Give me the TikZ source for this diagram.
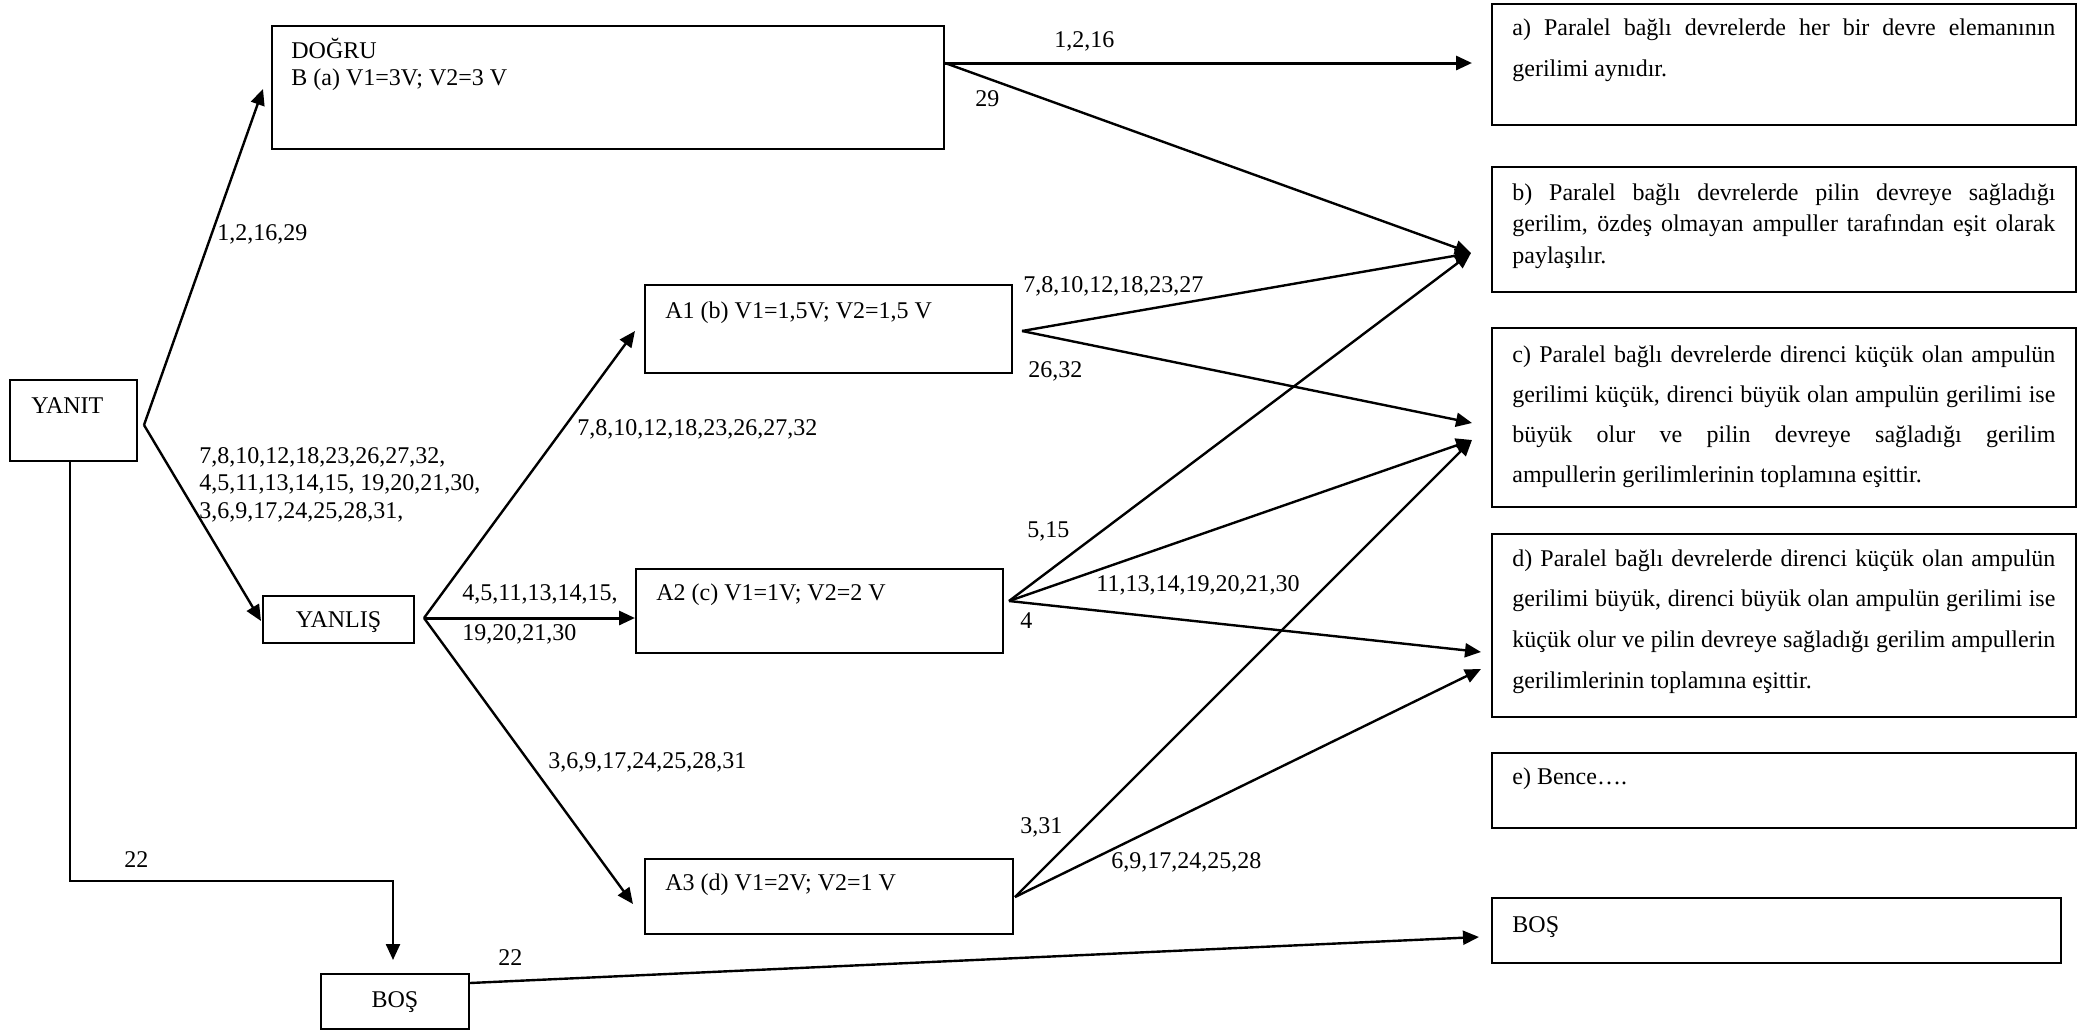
\documentclass[tikz,border=0pt]{standalone}
\usepackage{fontspec}
\setmainfont{Liberation Serif}
\usetikzlibrary{arrows.meta,calc}

% one justified line of a paragraph box, stretched to the full text width
\newcommand\jline[1]{\hbox{\makebox[271.5pt][s]{#1}}}
\newcommand\pline[1]{\hbox{#1}}
\newcommand\figfont{\fontsize{12}{14}\selectfont}

\begin{document}
\begin{tikzpicture}[x=0.5pt,y=-0.5pt,
  box/.style={draw, line width=1pt, inner sep=0pt, anchor=north west},
  txt/.style={inner sep=0pt, anchor=base west, font=\figfont},
  ctxt/.style={inner sep=0pt, anchor=base, font=\figfont},
  link/.style={line width=1.2pt, -{Triangle[length=8pt,width=7pt]}},
  heavy/.style={line width=1.5pt, -{Triangle[length=8pt,width=7pt]}}]

\useasboundingbox (0,0) rectangle (2084,1029);

% ---- boxes ----
\node[box, minimum width=63.5pt, minimum height=40.5pt] (yanit) at (9,379) {};
\node[box, minimum width=336pt, minimum height=61.5pt] (dogru) at (271,25) {};
\node[box, minimum width=75.5pt, minimum height=23.5pt] (yanlis) at (262,595) {};
\node[box, minimum width=183.5pt, minimum height=44pt] (aone) at (644,284) {};
\node[box, minimum width=183.5pt, minimum height=42pt] (atwo) at (635,568) {};
\node[box, minimum width=184pt, minimum height=37.5pt] (athree) at (644,858) {};
\node[box, minimum width=74pt, minimum height=27.5pt] (bosl) at (320,973) {};

\node[box, minimum width=292pt, minimum height=60.5pt] (ra) at (1491,3) {};
\node[box, minimum width=292pt, minimum height=62.5pt] (rb) at (1491,166) {};
\node[box, minimum width=292pt, minimum height=89.5pt] (rc) at (1491,327) {};
\node[box, minimum width=292pt, minimum height=91.5pt] (rd) at (1491,533) {};
\node[box, minimum width=292pt, minimum height=37.5pt] (re) at (1491,752) {};
\node[box, minimum width=284.5pt, minimum height=32.5pt] (rbos) at (1491,897) {};

% ---- box texts ----
\node[txt] (tyanit) at (31,413) {YANIT};
\node[txt] (tdogru) at (291,58) {\vtop{\baselineskip=13.5pt
  \pline{DOĞRU}\pline{B (a) V1=3V; V2=3 V}}};
\node[ctxt] (tyanlis) at (yanlis.center |- 0,627) {YANLIŞ};
\node[txt] (taone) at (665,318) {A1 (b) V1=1,5V; V2=1,5 V};
\node[txt] (tatwo) at (656,600) {A2 (c) V1=1V; V2=2 V};
\node[txt] (tathree) at (665,890) {A3 (d) V1=2V; V2=1 V};
\node[ctxt] (tbosl) at (bosl.center |- 0,1007) {BOŞ};

\node[txt] (tra) at (1512,35) {\vtop{\baselineskip=20.5pt
  \jline{a) Paralel bağlı devrelerde her bir devre elemanının}
  \pline{gerilimi aynıdır.}}};
\node[txt] (trb) at (1512,200) {\vtop{\baselineskip=15.75pt
  \jline{b) Paralel bağlı devrelerde pilin devreye sağladığı}
  \jline{gerilim, özdeş olmayan ampuller tarafından eşit olarak}
  \pline{paylaşılır.}}};
\node[txt] (trc) at (1512,362) {\vtop{\baselineskip=20pt
  \jline{c) Paralel bağlı devrelerde direnci küçük olan ampulün}
  \jline{gerilimi küçük, direnci büyük olan ampulün gerilimi ise}
  \jline{büyük olur ve pilin devreye sağladığı gerilim}
  \pline{ampullerin gerilimlerinin toplamına eşittir.}}};
\node[txt] (trd) at (1512,566) {\vtop{\baselineskip=20.35pt
  \jline{d) Paralel bağlı devrelerde direnci küçük olan ampulün}
  \jline{gerilimi büyük, direnci büyük olan ampulün gerilimi ise}
  \jline{küçük olur ve pilin devreye sağladığı gerilim ampullerin}
  \pline{gerilimlerinin toplamına eşittir.}}};
\node[txt] (tre) at (1512,784) {e) Bence….};
\node[txt] (trbos) at (1512,932) {BOŞ};

% ---- connector ends ----
\coordinate (yanitout) at ($(yanit.east)+(6,4.5)$);
\coordinate (dogruin) at ($(dogru.west)+(-8,1.5)$);
\coordinate (yanlisin) at ($(yanlis.west)+(-1,1.5)$);
\coordinate (yanlisout) at ($(yanlis.east)+(9,-1.5)$);
\coordinate (aonein) at ($(aone.west)+(-9,2)$);
\coordinate (athreein) at ($(athree.west)+(-11,7.5)$);
\coordinate (dogruout) at ($(dogru.east)+(0,-24.5)$);
\coordinate (rain) at ($(ra.west)+(-19,0)$);
\coordinate (rbin) at ($(rb.west)+(-20,23.5)$);
\coordinate (aoneout) at ($(aone.east)+(9,2)$);
\coordinate (rcinup) at ($(rc.west)+(-19,5.5)$);
\coordinate (rcinlow) at ($(rc.west)+(-19,22.5)$);
\coordinate (atwoout) at ($(atwo.east)+(5,-10)$);
\coordinate (rdinup) at ($(rd.west)+(-10,26.5)$);
\coordinate (rdinlow) at ($(rd.west)+(-10,43.5)$);
\coordinate (athreeout) at ($(athree.east)+(1,0.5)$);
\coordinate (yanitdown) at ($(yanit.south)+(-3.5,0)$);
\coordinate (bend) at (yanitdown |- 0,881);
\coordinate (boslin) at ($(bosl.north)+(-2,-13)$);
\coordinate (boslout) at ($(bosl.east)+(0,-18.5)$);
\coordinate (rbosin) at ($(rbos.west)+(-12,6.5)$);

% ---- connectors ----
\draw[link] (yanitout) -- (dogruin);
\draw[link] (yanitout) -- (yanlisin);
\draw[link] (yanitdown) -- (bend) -| (boslin);
\draw[link] (yanlisout) -- (aonein);
\draw[heavy] (yanlisout) -- (yanlisout -| atwo.west);
\draw[link] (yanlisout) -- (athreein);
\draw[heavy] (dogruout) -- (dogruout -| rain);
\draw[link] (dogruout) -- (rbin);
\draw[link] (aoneout) -- (rbin);
\draw[link] (aoneout) -- (rcinup);
\draw[link] (atwoout) -- (rbin);
\draw[link] (atwoout) -- (rcinlow);
\draw[link] (atwoout) -- (rdinup);
\draw[link] (athreeout) -- (rcinlow);
\draw[link] (athreeout) -- (rdinlow);
\draw[link] (boslout) -- (rbosin);

% ---- connector labels ----
\node[txt] (l1) at (217,240) {1,2,16,29};
\node[txt] (l2) at (199,463) {\vtop{\baselineskip=13.75pt
  \pline{7,8,10,12,18,23,26,27,32,}
  \pline{4,5,11,13,14,15, 19,20,21,30,}
  \pline{3,6,9,17,24,25,28,31,}}};
\node[txt] (l3) at (577,435) {7,8,10,12,18,23,26,27,32};
\node[txt] (l4) at (462,600) {\vtop{\baselineskip=20pt
  \pline{4,5,11,13,14,15,}\pline{19,20,21,30}}};
\node[txt] (l5) at (548,768) {3,6,9,17,24,25,28,31};
\node[txt] (l6) at (124,867) {22};
\node[txt] (l7) at (498,965) {22};
\node[txt] (l8) at (1054,47) {1,2,16};
\node[txt] (l9) at (975,106) {29};
\node[txt] (l10) at (1023,292) {7,8,10,12,18,23,27};
\node[txt] (l11) at (1028,377) {26,32};
\node[txt] (l12) at (1027,537) {5,15};
\node[txt] (l13) at (1096,591) {11,13,14,19,20,21,30};
\node[txt] (l14) at (1020,628) {4};
\node[txt] (l15) at (1020,833) {3,31};
\node[txt] (l16) at (1111,868) {6,9,17,24,25,28};
\end{tikzpicture}
\end{document}
